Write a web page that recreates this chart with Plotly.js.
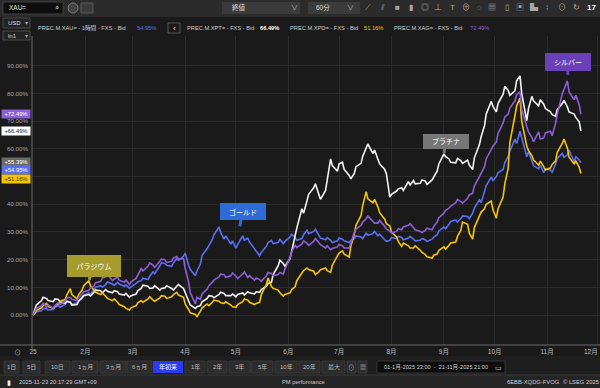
<!DOCTYPE html>
<html><head><meta charset="utf-8">
<script src="https://cdn.plot.ly/plotly-3.0.1.min.js"></script>
<style>html,body{margin:0;padding:0;background:#1a1a1a;}#chart{width:600px;height:388px;}</style>
</head><body><div id="chart"></div>
<script>
// ---- data (percent change since 2025-01-01) ----
const dates = ['2025-01-01','2025-01-02','2025-01-03','2025-01-06','2025-01-07','2025-01-09','2025-01-10','2025-01-13','2025-01-14','2025-01-16','2025-01-17','2025-01-20','2025-01-21','2025-01-23','2025-01-24','2025-01-27','2025-01-28','2025-01-30','2025-01-31',
'2025-02-03','2025-02-04','2025-02-06','2025-02-07','2025-02-10','2025-02-11','2025-02-13','2025-02-14','2025-02-17','2025-02-18','2025-02-20','2025-02-21','2025-02-24','2025-02-25','2025-02-27','2025-02-28',
'2025-03-03','2025-03-04','2025-03-06','2025-03-07','2025-03-10','2025-03-11','2025-03-13','2025-03-14','2025-03-17','2025-03-18','2025-03-20','2025-03-21','2025-03-24','2025-03-25','2025-03-27','2025-03-28','2025-03-31',
'2025-04-01','2025-04-03','2025-04-04','2025-04-07','2025-04-08','2025-04-10','2025-04-11','2025-04-14','2025-04-15','2025-04-17','2025-04-18','2025-04-21','2025-04-22','2025-04-24','2025-04-25','2025-04-28','2025-04-29',
'2025-05-01','2025-05-02','2025-05-05','2025-05-06','2025-05-08','2025-05-09','2025-05-12','2025-05-13','2025-05-15','2025-05-16','2025-05-19','2025-05-20','2025-05-22','2025-05-23','2025-05-26','2025-05-27','2025-05-29','2025-05-30',
'2025-06-02','2025-06-03','2025-06-05','2025-06-06','2025-06-09','2025-06-10','2025-06-12','2025-06-13','2025-06-16','2025-06-17','2025-06-19','2025-06-20','2025-06-23','2025-06-24','2025-06-26','2025-06-27','2025-06-30',
'2025-07-01','2025-07-03','2025-07-04','2025-07-07','2025-07-08','2025-07-10','2025-07-11','2025-07-14','2025-07-15','2025-07-17','2025-07-18','2025-07-21','2025-07-22','2025-07-24','2025-07-25','2025-07-28','2025-07-29','2025-07-31',
'2025-08-01','2025-08-04','2025-08-05','2025-08-07','2025-08-08','2025-08-11','2025-08-12','2025-08-14','2025-08-15','2025-08-18','2025-08-19','2025-08-21','2025-08-22','2025-08-25','2025-08-26','2025-08-28','2025-08-29',
'2025-09-01','2025-09-02','2025-09-04','2025-09-05','2025-09-08','2025-09-09','2025-09-11','2025-09-12','2025-09-15','2025-09-16','2025-09-18','2025-09-19','2025-09-22','2025-09-23','2025-09-25','2025-09-26','2025-09-29','2025-09-30',
'2025-10-02','2025-10-03','2025-10-06','2025-10-07','2025-10-09','2025-10-10','2025-10-13','2025-10-14','2025-10-16','2025-10-17','2025-10-20','2025-10-21','2025-10-23','2025-10-24','2025-10-27','2025-10-28','2025-10-30','2025-10-31',
'2025-11-03','2025-11-04','2025-11-06','2025-11-07','2025-11-10','2025-11-11','2025-11-13','2025-11-14','2025-11-17','2025-11-18','2025-11-20','2025-11-21'];
const gold = [0,
0.6,1.2,1.5,2.4,2.3,1.8,2.0,2.9,3.4,2.8,3.8,4.6,4.7,3.9,4.4,5.2,6.5,7.2,
8.0,7.4,9.2,10.0,10.6,10.1,11.0,11.9,11.2,10.7,11.8,11.2,10.4,10.9,9.6,10.2,11.4,12.0,12.4,13.3,
12.8,14.0,15.6,14.9,17.8,18.9,18.6,18.0,17.6,18.8,20.4,19.7,21.2,22.4,18.0,16.4,14.2,16.0,18.4,21.6,
24.0,25.2,27.2,29.0,31.8,29.8,27.4,28.6,25.6,26.8,24.2,25.4,28.6,27.0,27.8,26.4,24.0,23.2,21.4,22.6,
24.8,26.2,27.0,25.8,26.2,27.4,25.8,26.6,28.2,29.2,28.0,27.0,27.6,29.0,30.6,29.4,30.2,31.0,28.6,27.8,
27.2,28.0,27.0,26.2,26.8,27.8,27.4,26.8,26.2,27.0,27.6,28.6,28.2,27.6,29.6,28.8,29.4,30.2,28.6,29.2,
27.2,26.6,27.0,28.0,27.6,28.4,28.0,27.2,27.8,28.4,27.4,26.8,27.0,27.6,27.2,26.6,27.4,28.2,29.0,30.4,
31.8,31.2,32.8,33.8,34.4,33.6,34.8,35.8,35.6,34.8,36.8,38.6,41.6,40.6,44.6,46.8,49.8,48.6,50.0,51.4,
52.6,55.0,57.4,59.2,63.6,62.0,66.4,64.0,57.2,59.0,55.6,54.0,52.8,54.2,51.4,52.8,52.4,51.6,54.4,56.6,
58.4,57.0,57.8,59.6,55.4,57.2,56.0,54.95];
const silver = [0,
1.2,2.4,3.4,4.2,2.8,3.6,2.5,3.4,4.5,3.8,5.0,6.2,6.4,5.6,5.2,6.4,7.6,8.4,
8.8,9.8,10.4,11.6,12.2,13.4,13.8,14.6,12.4,13.0,13.6,12.6,11.8,12.6,11.0,12.0,13.2,14.6,16.8,16.0,
17.6,18.8,18.0,17.2,19.2,20.2,20.0,19.0,19.4,20.6,21.2,20.2,20.4,17.0,12.0,8.0,4.0,6.4,5.6,7.6,
9.4,10.6,11.8,12.6,13.8,14.8,14.6,13.6,14.2,15.2,14.0,13.2,14.8,15.6,13.6,14.2,12.6,13.4,12.8,12.2,
14.2,15.4,15.0,14.2,14.6,15.4,14.8,16.6,20.8,22.8,25.2,24.4,25.6,26.8,26.0,25.2,26.6,27.6,26.2,25.4,
24.2,25.0,23.6,24.0,24.6,25.6,25.0,24.2,24.2,26.4,29.8,31.0,32.4,33.6,34.8,35.8,34.0,33.2,33.2,34.2,
32.0,31.0,30.4,29.6,30.2,31.2,30.8,31.8,32.4,33.0,31.6,30.8,30.2,29.8,30.6,31.4,30.8,32.0,33.6,35.2,
36.8,37.8,38.6,39.4,40.6,41.8,41.0,40.4,42.2,43.4,44.0,46.6,50.0,51.4,53.6,56.4,59.8,61.0,62.6,65.6,
69.4,71.6,72.6,74.8,77.4,79.6,80.6,74.4,68.0,66.2,64.2,62.6,66.2,63.6,64.0,65.8,66.4,64.8,69.2,72.4,
80.0,81.8,84.6,80.6,77.8,79.4,76.0,72.49];
const platinum = [0,
1.5,3.6,5.2,6.4,6.0,5.2,4.8,5.8,5.6,4.8,4.2,5.0,4.6,3.6,3.8,5.0,6.2,7.0,
7.4,6.8,8.2,9.0,8.8,8.0,9.2,8.6,8.0,8.8,8.4,7.6,7.2,7.8,6.4,7.0,7.6,8.8,9.6,10.8,
10.4,9.6,9.8,10.6,9.0,9.6,9.8,10.6,9.6,9.0,10.4,11.0,9.6,8.2,5.0,3.6,2.4,3.0,3.4,4.8,
6.0,7.0,6.8,6.2,7.4,8.2,7.8,7.0,7.0,7.6,6.6,7.4,8.0,7.2,8.4,8.0,7.6,8.4,8.2,9.2,
10.4,11.4,11.8,14.6,17.8,19.8,18.6,17.6,20.4,23.2,27.6,31.4,38.4,36.8,41.2,43.6,46.0,47.4,43.6,41.8,
45.0,49.4,56.4,54.0,52.0,54.6,55.2,52.6,50.4,49.2,51.2,53.6,54.8,57.4,60.6,61.8,58.4,59.6,56.2,54.6,
52.6,51.0,42.6,43.6,44.8,45.6,46.0,45.0,48.2,47.0,48.6,47.4,47.6,48.8,48.4,47.2,48.8,50.0,52.0,54.6,
58.2,57.2,56.4,55.2,55.0,56.6,55.8,54.8,56.0,54.2,52.6,56.8,61.6,64.4,68.4,72.6,77.2,75.4,73.4,76.4,
79.8,82.6,81.2,79.4,81.0,84.6,86.4,80.0,70.2,74.6,79.0,77.4,75.6,77.8,76.2,74.6,73.4,72.4,71.8,74.2,
76.4,77.6,75.2,73.4,72.6,71.4,69.8,66.49];
const palladium = [0,
0.5,1.6,2.6,3.4,4.2,3.0,2.4,3.2,4.0,5.0,5.6,7.2,9.5,7.4,5.8,7.4,9.0,10.6,
12.4,10.6,9.0,8.2,7.4,8.0,6.8,6.0,5.2,5.8,4.6,3.8,3.0,2.4,1.8,2.6,3.4,4.4,5.2,4.6,
5.8,6.6,5.4,5.0,6.2,7.0,6.8,6.0,6.6,7.4,8.2,7.2,6.4,4.0,2.0,0.8,0.2,-0.6,1.4,2.6,
4.0,3.4,4.6,5.4,5.0,4.4,4.2,4.8,3.6,3.0,2.8,3.8,4.8,5.8,5.4,4.6,3.8,4.2,4.6,7.4,
11.0,13.4,10.4,9.6,9.0,8.0,6.8,7.4,8.0,9.2,10.2,12.4,15.2,16.0,17.0,16.4,15.8,14.6,15.6,16.4,
17.0,16.0,15.4,18.0,21.4,22.4,23.2,22.0,21.0,25.0,29.2,32.4,36.0,39.6,44.6,42.0,40.6,41.8,39.0,37.0,
34.6,33.0,32.2,30.0,28.2,26.6,24.8,26.0,25.0,24.2,24.2,25.0,23.4,22.6,21.8,21.0,20.6,21.6,22.0,23.4,
24.6,23.8,25.2,26.0,26.4,28.4,30.6,33.6,32.8,29.6,27.4,31.6,35.8,37.2,38.4,40.0,41.2,38.0,35.0,38.4,
42.6,47.4,53.0,62.4,72.0,75.6,78.4,70.0,61.0,59.4,57.6,56.0,54.2,55.6,53.6,52.4,53.2,54.4,55.6,58.8,
62.0,63.6,60.4,57.0,54.6,55.6,53.4,51.16];
const cursorValue = 55.39;
const seriesNames = ['PREC.M.XAU=','PREC.M.XPT=','PREC.M.XPD=','PREC.M.XAG='];
const bubbleLabels = ['ゴールド','プラチナ','パラジウム','シルバー'];
const monthTicks = ['2025-01-01','2025-02-01','2025-03-01','2025-04-01','2025-05-01','2025-06-01','2025-07-01','2025-08-01','2025-09-01','2025-10-01','2025-11-01','2025-12-01'];
const monthLabels = ['25','2月','3月','4月','5月','6月','7月','8月','9月','10月','11月','12月'];
const yTicks = [0,10,20,30,40,50,60,70,80,90];

// ---- styling ----
const F = 'Liberation Sans, Noto Sans CJK JP, sans-serif';
const C = {gold:'#5b6ff2', plat:'#f2f2f2', pall:'#f5c400', silv:'#8c5fd8'};
const YMIN = -10.84, YMAX = 100.83;
const PL = 32, PT = 36, PW = 568, PH = 309;
const PX = x => (x - PL) / PW;
const PY = y => (PT + PH - y) / PH;
const pxOf = v => PT + PH - (v - YMIN) / (YMAX - YMIN) * PH;

const mk = (y, name, color) => ({x: dates, y: y, name: name, type: 'scatter', mode: 'lines',
  line: {color: color, width: 1.6}, hoverinfo: 'skip'});
const traces = [
  mk(gold, seriesNames[0], C.gold),
  mk(platinum, seriesNames[1], C.plat),
  mk(palladium, seriesNames[2], C.pall),
  mk(silver, seriesNames[3], C.silv)
];

const shapes = [];
const ann = [];
function rect(x0,y0,x1,y1,fill,line){shapes.push({type:'rect',xref:'paper',yref:'paper',x0:PX(x0),x1:PX(x1),y0:PY(y1),y1:PY(y0),fillcolor:fill,line:{color:line||fill,width:line?0.8:0},layer:'above'});}
function hline(x0,x1,y,col){shapes.push({type:'line',xref:'paper',yref:'paper',x0:PX(x0),x1:PX(x1),y0:PY(y),y1:PY(y),line:{color:col,width:1},layer:'above'});}
function vline(x,y0,y1,col){shapes.push({type:'line',xref:'paper',yref:'paper',x0:PX(x),x1:PX(x),y0:PY(y0),y1:PY(y1),line:{color:col,width:1},layer:'above'});}
function txt(x,y,t,size,col,anchor,bold){ann.push({xref:'paper',yref:'paper',x:PX(x),y:PY(y),text:bold?'<b>'+t+'</b>':t,showarrow:false,xanchor:anchor||'left',yanchor:'middle',font:{family:F,size:size,color:col}});}

// top toolbar
rect(0,0,600,17,'#2b2b2b');
rect(3,2,63,14,'#0d0d0d','#4a4a4a');
txt(7,8,'XAU=',6.5,'#e0e0e0');
txt(57,8,'⌕',8,'#bbbbbb','center');
shapes.push({type:'circle',xref:'paper',yref:'paper',x0:PX(68),x1:PX(78),y0:PY(13),y1:PY(3),fillcolor:'#444',line:{color:'#888',width:0.8},layer:'above'});
rect(81,3,93,13,'#3a3a3a','#666');
rect(222,2,300,14,'#3b3b3b');
txt(230,8,'終値',6.5,'#dddddd');
txt(294,8,'∨',7,'#bbbbbb','center');
rect(308,2,360,14,'#3b3b3b');
txt(314,8,'60分',6.5,'#dddddd');
txt(350,8,'∨',7,'#bbbbbb','center');
[[368,'⟋'],[382,'⫽'],[397,'■'],[411,'▮'],[425,'◎'],[438,'⊥'],[452,'T'],[466,'⊕'],[479,'◌'],[492,'▦'],[507,'▯'],[520,'▣'],[534,'▙'],[547,'⁞'],[562,'⊙'],[576,'↻']]
  .forEach(p => txt(p[0],8,p[1],8,'#a8a8a8','center'));
txt(591,8,'17',8,'#ffffff','center',true);

// header row
rect(3,18,30,28,'#222','#555');
txt(6,23,'USD',6,'#dddddd');
txt(26,23,'▾',6,'#aaaaaa','center');
rect(3,31,30,40,'#222','#555');
txt(6,35.5,'ln1',6,'#dddddd');
txt(26,35.5,'▾',6,'#aaaaaa','center');
const hs = 5.7;
txt(36,28,'PREC.M.XAU= - 1時間 - FXS - Bid',hs,'#cfcfcf');
txt(135,28,gold[gold.length-1].toFixed(2)+'%',hs,C.gold);
rect(168,23,180,33,'#1a1a1a','#666');
txt(174,28,'‹',8,'#dddddd','center');
txt(185,28,'PREC.M.XPT= - FXS - Bid',hs,'#cfcfcf');
txt(258,28,platinum[platinum.length-1].toFixed(2)+'%',hs,'#ffffff',null,true);
txt(288,28,'PREC.M.XPD= - FXS - Bid',hs,'#cfcfcf');
txt(362,28,palladium[palladium.length-1].toFixed(2)+'%',hs,C.pall);
txt(392,28,'PREC.M.XAG= - FXS - Bid',hs,'#cfcfcf');
txt(468,28,silver[silver.length-1].toFixed(2)+'%',hs,C.silv);

// axes frame lines
hline(0,600,345,'#6a6a6a');
vline(32,PT,352,'#6a6a6a');
txt(17,352,'⊙',7,'#aaaaaa','center');
// last month label sits at the right edge: drawn right-aligned so it stays inside the picture
const lastIdx = monthLabels.length - 1;
const xTickText = monthLabels.map((t, i) => i === lastIdx ? '' : t);
ann.push({xref:'paper',yref:'paper',x:1,y:PY(351.5),xanchor:'right',yanchor:'middle',text:monthLabels[lastIdx],
  showarrow:false,font:{family:F,size:6.5,color:'#bdbdbd'}});

// range buttons row
rect(0,356,600,375,'#1e1e1e');
const btns = [['1日',4,19],['5日',23,40],['10日',45,70],['1ヵ月',72,98],['3ヵ月',100,126],['6ヵ月',127,152],['年初来',153,183],['1年',185,205],['2年',207,227],['3年',229,250],['5年',251,273],['10年',275,297],['20年',299,320],['最大',322,345]];
btns.forEach(b => {
  const active = b[0] === '年初来';
  rect(b[1],361,b[2],373,active?'#2a3cf2':'#2c2c2c', active?null:'#3c3c3c');
  txt((b[1]+b[2])/2,367,b[0],6,active?'#ffffff':'#bdbdbd','center');
});
rect(347,361,356,373,'#2c2c2c','#3c3c3c'); txt(351.5,367,'⊙',6.5,'#aaaaaa','center');
rect(358,361,367,373,'#2c2c2c','#3c3c3c'); txt(362.5,367,'▦',6,'#aaaaaa','center');
rect(377,361,505,373,'#0d0d0d','#3c3c3c');
txt(382,367,'01-1月-2025 23:00  -  21-11月-2025 21:00',5.6,'#d0d0d0');
txt(498,367,'▭',7,'#cccccc','center');

// footer
rect(0,375,600,388,'#252525');
hline(0,600,375,'#3a3a3a');
txt(9,382,'▮',7,'#eeeeee','center');
txt(17,382,'2025-11-23 20:17:29 GMT+09',5.8,'#d0d0d0');
txt(280,382,'PM performance',5.8,'#d0d0d0');
txt(505,382,'6EBB-XQDG-FVOG',5.8,'#d0d0d0');
txt(561,382,'© LSEG 2025',5.8,'#d0d0d0');

// left value tags (stacked so they don't overlap)
const tags = [
  {v: silver[silver.length-1], bg: C.silv, fg: '#ffffff'},
  {v: platinum[platinum.length-1], bg: '#ffffff', fg: '#222222'},
  {v: cursorValue, bg: '#6a6a6a', fg: '#ffffff'},
  {v: gold[gold.length-1], bg: C.gold, fg: '#ffffff'},
  {v: palladium[palladium.length-1], bg: C.pall, fg: '#4a3000'}
].sort((a,b) => b.v - a.v);
let prev = -1e9;
const tagPx = [];
tags.forEach(t => {
  const p0 = pxOf(t.v);
  const p = Math.max(p0, prev + 8.6);
  prev = p;
  tagPx.push(p);
  ann.push({xref:'paper',yref:'y',x:0,y:t.v,xanchor:'right',yanchor:'middle',xshift:-1,yshift:-(p-p0),
    text:'+'+t.v.toFixed(2)+'%',showarrow:false,bgcolor:t.bg,width:27,height:7,borderpad:0.5,
    font:{family:F,size:5.8,color:t.fg}});
});
// tick labels covered by a value tag are not visible in the reference
const yTickText = yTicks.map(v => tagPx.some(p => Math.abs(p - pxOf(v)) < 5) ? '' : v.toFixed(2)+'%');

// callout bubbles
function bubble(series, idx, label, bg, ax, ay, w, h, standoff){
  ann.push({x:dates[idx],y:series[idx],xref:'x',yref:'y',text:label,showarrow:true,arrowhead:0,arrowwidth:3,
    arrowcolor:bg,ax:ax,ay:ay,standoff:standoff,bgcolor:bg,bordercolor:bg,borderpad:1,width:w,height:h,
    font:{family:F,size:7,color:'#ffffff'}});
}
bubble(palladium,19,bubbleLabels[2],'#a89b2e',5,-15,50,18,1);
bubble(gold,69,bubbleLabels[0],'#2f6bd6',6.6,-37,42,13,22);
bubble(platinum,139,bubbleLabels[1],'#767676',1.6,-12.5,42,11,1);
bubble(silver,181,bubbleLabels[3],'#6a3fb8',1.1,-19.4,42,14,6);

const layout = {
  width:600, height:388,
  margin:{l:PL, r:0, t:PT, b:388-PT-PH},
  paper_bgcolor:'#1a1a1a', plot_bgcolor:'#1a1a1a',
  showlegend:false,
  font:{family:F, color:'#bbbbbb'},
  xaxis:{type:'date', range:['2024-12-31 09:48','2025-12-02 07:12'], tickvals:monthTicks, ticktext:xTickText,
    tickfont:{family:F,size:6.5,color:'#bdbdbd'}, showgrid:true, gridcolor:'#2b2b2b', gridwidth:1,
    zeroline:false, showline:false, ticks:'', ticklabelstandoff:1, fixedrange:true},
  yaxis:{range:[YMIN,YMAX], tickvals:yTicks, ticktext:yTickText,
    tickfont:{family:F,size:6.2,color:'#a8a8a8'}, showgrid:true, gridcolor:'#2b2b2b', gridwidth:1,
    zeroline:false, showline:false, ticks:'', ticklabelstandoff:3, fixedrange:true},
  shapes:shapes, annotations:ann
};
Plotly.newPlot('chart', traces, layout, {displayModeBar:false, staticPlot:true});
</script></body></html>
